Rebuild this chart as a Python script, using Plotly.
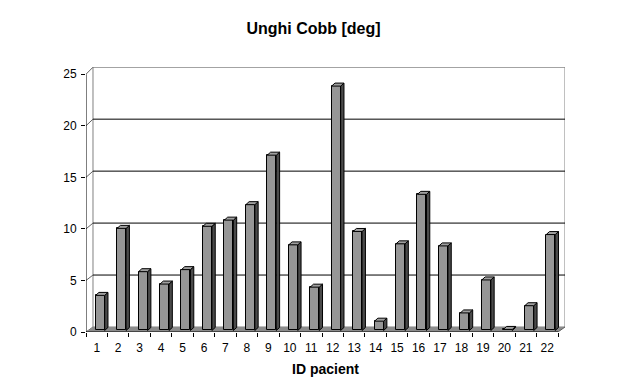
import plotly.graph_objects as go

# ---- data ----
categories = [str(i) for i in range(1, 23)]
cobb_angles = [3.4, 9.9, 5.7, 4.5, 5.9, 10.1, 10.7, 12.2, 17.0, 8.3, 4.2,
               23.7, 9.6, 0.9, 8.4, 13.2, 8.2, 1.7, 4.9, 0.1, 2.4, 9.3]
y_ticks = [0, 5, 10, 15, 20, 25]
title_text = "Unghi Cobb [deg]"
x_title = "ID pacient"

# ---- pseudo-3D geometry (in axis units) ----
DX, DY = 0.326, 0.485        # depth offset of back wall
KB = 260 / 258               # back wall scale
BFX, BFY = 0.16, 0.15        # bar front face offset
W = 0.42                     # bar width
BDX, BDY = 0.154, 0.29       # bar depth offset
X0, X1 = 0.5, len(categories) + 0.5
FONT = "Arial, Liberation Sans, sans-serif"
PAGE = 8                     # default body margin of the page

def back(v):
    return DY + v * KB

xs = list(range(1, len(categories) + 1))

fig = go.Figure()

# front faces
fig.add_trace(go.Bar(
    x=[c + BFX for c in xs], y=cobb_angles, base=BFY, width=W,
    marker=dict(color="#969696", line=dict(color="black", width=1)),
    hoverinfo="skip", showlegend=False))

# side faces and top faces
sx, sy, tx, ty = [], [], [], []
for c, v in zip(xs, cobb_angles):
    xl = c + BFX - W / 2
    xr = c + BFX + W / 2
    top = BFY + v
    sx += [xr, xr + BDX, xr + BDX, xr, xr, None]
    sy += [BFY, BFY + BDY, top + BDY, top, BFY, None]
    tx += [xl, xr, xr + BDX, xl + BDX, xl, None]
    ty += [top, top, top + BDY, top + BDY, top, None]

fig.add_trace(go.Scatter(x=sx, y=sy, mode="lines", fill="toself",
                         fillcolor="#4a4a4a", line=dict(color="black", width=1),
                         hoverinfo="skip", showlegend=False))
fig.add_trace(go.Scatter(x=tx, y=ty, mode="lines", fill="toself",
                         fillcolor="#a0a0a0", line=dict(color="black", width=1),
                         hoverinfo="skip", showlegend=False))

shapes = []
# back wall
shapes.append(dict(type="rect", xref="x", yref="y", x0=X0 + DX, x1=X1 + DX,
                   y0=back(0), y1=back(y_ticks[-1]),
                   line=dict(color="#808080", width=1), fillcolor="white", layer="below"))
# gridlines
for v in y_ticks[1:-1]:
    shapes.append(dict(type="line", xref="x", yref="y", x0=X0 + DX, x1=X1 + DX,
                       y0=back(v), y1=back(v), line=dict(color="black", width=1), layer="below"))
# diagonals from axis to wall
for v in y_ticks:
    shapes.append(dict(type="line", xref="x", yref="y", x0=X0, x1=X0 + DX,
                       y0=v, y1=back(v), line=dict(color="#606060", width=1), layer="below"))
# floor
shapes.append(dict(type="path", xref="x", yref="y",
                   path=f"M {X0},0 L {X1},0 L {X1 + DX},{DY} L {X0 + DX},{DY} Z",
                   fillcolor="#8c8c8c", line=dict(width=0), layer="below"))
# front edges
shapes.append(dict(type="line", xref="x", yref="y", x0=X0, x1=X1, y0=0, y1=0,
                   line=dict(color="black", width=1), layer="below"))
shapes.append(dict(type="line", xref="x", yref="y", x0=X1, x1=X1 + DX, y0=0, y1=DY,
                   line=dict(color="#606060", width=1), layer="below"))
shapes.append(dict(type="line", xref="x", yref="y", x0=X0, x1=X0, y0=0, y1=y_ticks[-1],
                   line=dict(color="black", width=1), layer="below"))

fig.update_layout(
    width=628, height=389,
    margin=dict(l=86 - PAGE, r=71, t=67 - PAGE, b=65, autoexpand=False),
    paper_bgcolor="white", plot_bgcolor="white",
    shapes=shapes,
    bargap=0,
    title=dict(text=f"<b>{title_text}</b>", x=(313.5 - PAGE) / 628, xanchor="center",
               yref="container", y=1 - (28 - PAGE) / 389, yanchor="middle",
               font=dict(family=FONT, size=16, color="black")),
    xaxis=dict(range=[X0, X1 + DX], tickmode="array", tickvals=xs, ticktext=categories,
               ticks="", showgrid=False, zeroline=False, showline=False,
               ticklabelstandoff=7,
               tickfont=dict(family=FONT, size=12, color="black"),
               minor=dict(tickmode="array", tickvals=[c - 0.5 for c in xs] + [X1],
                          ticks="outside", ticklen=4, tickcolor="black", tickwidth=1),
               title=dict(text=f"<b>{x_title}</b>", standoff=10,
                          font=dict(family=FONT, size=14, color="black"))),
    yaxis=dict(range=[0, 25.7], tickmode="array", tickvals=y_ticks,
               ticks="outside", ticklen=4, tickcolor="black",
               showgrid=False, zeroline=False, showline=False,
               ticklabelstandoff=2,
               tickfont=dict(family=FONT, size=12, color="black")),
)

fig.write_html("out.html", config={"displayModeBar": False})
